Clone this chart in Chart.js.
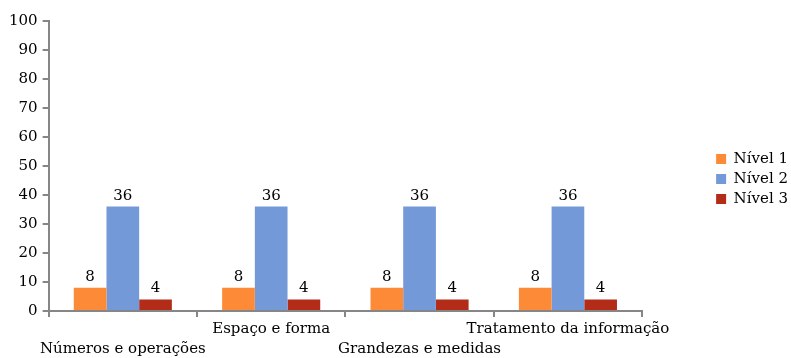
<!DOCTYPE html>
<html><head><meta charset="utf-8">
<script src="https://cdn.jsdelivr.net/npm/chart.js@4/dist/chart.umd.min.js"></script>
<style>html,body{margin:0;padding:0;background:#fff}#wrap{width:791px;height:358px}</style>
</head><body><div id="wrap"><canvas id="c" width="791" height="358"></canvas></div>
<script>
const categories = ['Números e operações', 'Espaço e forma', 'Grandezas e medidas', 'Tratamento da informação'];
const nivel1 = [8, 8, 8, 8];
const nivel2 = [36, 36, 36, 36];
const nivel3 = [4, 4, 4, 4];
const seriesNames = ['Nível 1', 'Nível 2', 'Nível 3'];
const yTicks = [0, 10, 20, 30, 40, 50, 60, 70, 80, 90, 100];

const FONT = 'DejaVu Serif';
const axisColor = '#868686';

const valueLabels = {
  id: 'valueLabels',
  afterDatasetsDraw(chart) {
    const ctx = chart.ctx;
    ctx.save();
    ctx.font = '15px "' + FONT + '"';
    ctx.fillStyle = '#000';
    ctx.textAlign = 'center';
    ctx.textBaseline = 'alphabetic';
    chart.data.datasets.forEach((ds, i) => {
      chart.getDatasetMeta(i).data.forEach((bar, j) => {
        ctx.fillText(String(ds.data[j]), bar.x, bar.y - 7);
      });
    });
    ctx.restore();
  }
};

const legendShift = {
  id: 'legendShift',
  afterLayout(chart) {
    const lg = chart.legend;
    if (!lg) return;
    lg.left += 7; lg.right += 7;
    lg.top -= 12; lg.bottom -= 12;
  }
};

new Chart(document.getElementById('c'), {
  type: 'bar',
  data: {
    labels: categories,
    datasets: [
      { label: seriesNames[0], data: nivel1, backgroundColor: '#FC8A37' },
      { label: seriesNames[1], data: nivel2, backgroundColor: '#7499D8' },
      { label: seriesNames[2], data: nivel3, backgroundColor: '#B22C18' }
    ]
  },
  options: {
    responsive: false,
    animation: false,
    layout: { padding: { top: 21, left: 4, right: 0, bottom: -3 } },
    datasets: { bar: { categoryPercentage: 0.661, barPercentage: 1 } },
    plugins: {
      legend: {
        position: 'right',
        labels: { font: { family: FONT, size: 15 }, color: '#000', boxWidth: 10, boxHeight: 10, padding: 5 }
      },
      tooltip: { enabled: false }
    },
    scales: {
      x: {
        grid: { display: true, offset: true, drawOnChartArea: false, drawTicks: true, tickLength: 6, color: axisColor, lineWidth: 2 },
        border: { display: true, color: axisColor, width: 2 },
        ticks: {
          autoSkip: false, maxRotation: 0, minRotation: 0, color: '#000',
          font: { family: FONT, size: 15, lineHeight: 1.3333 }, padding: 2,
          callback: function (v, i) { return i % 2 === 0 ? ['', categories[i]] : [categories[i]]; }
        }
      },
      y: {
        min: 0, max: 100,
        afterBuildTicks: (axis) => { axis.ticks = yTicks.map(v => ({ value: v })); },
        grid: { display: true, drawOnChartArea: false, drawTicks: true, tickLength: 6, color: axisColor, lineWidth: 2 },
        border: { display: true, color: axisColor, width: 2 },
        ticks: { color: '#000', font: { family: FONT, size: 15 }, padding: 5 }
      },
      gap: {
        position: 'right',
        display: true,
        grid: { display: false },
        border: { display: false },
        ticks: { display: false },
        afterFit: (scale) => { scale.width = 62; }
      }
    }
  },
  plugins: [valueLabels, legendShift]
});
</script></body></html>
